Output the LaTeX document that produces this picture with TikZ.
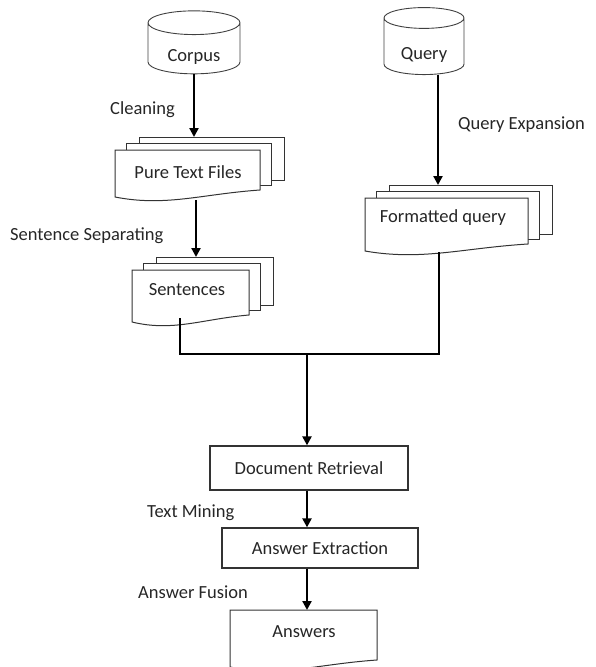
\documentclass[tikz,border=0pt]{standalone}
\usepackage{fontspec}
\setmainfont{Carlito}
\usepackage{tikz}
\usetikzlibrary{arrows.meta, positioning, shapes.geometric}

\tikzset{
	sheet/.style={draw=black!80, fill=white, line width=1pt},
	procbox/.style={draw=black!80, fill=white, line width=1.3pt, inner sep=0pt},
	store/.style={cylinder, shape border rotate=90, draw=black!75, line width=0.9pt, aspect=0.45, inner sep=0pt, text height=26pt, text depth=0pt},
	lbl/.style={text=black!85, font=\fontsize{18.5}{21}\selectfont, inner sep=0pt},
	link/.style={-{Triangle[length=9pt,width=9pt]}, line width=2.2pt},
	wire/.style={line width=2.2pt}
}

% one sheet with a wavy lower edge: left, top, right, lower right corner
\newcommand{\docsheet}[4]{%
	\draw[sheet] (#1,#2) -- (#3,#2) -- (#3,#4)
		.. controls ({#1+0.6*(#3-#1)},{#4+4}) and ({#1+0.35*(#3-#1)},{#4+17}) .. (#1,{#4+7}) -- cycle;}
\newcommand{\multidoc}[4]{%
	\draw[sheet] ({#1+24},{#2-13}) rectangle ({#3+24},{#4-10});
	\draw[sheet] ({#1+11},{#2-7}) rectangle ({#3+11},{#4-5});
	\docsheet{#1}{#2}{#3}{#4}}

\begin{document}
\begin{tikzpicture}[x=1pt, y=-1pt, >=Triangle]
	\useasboundingbox (0,0) rectangle (595,667);

	\node[store, lbl, minimum width=92pt, minimum height=63pt] (corpus) at (194,48.5) {Corpus};
	\node[store, lbl, minimum width=80pt, minimum height=67pt] (query) at (424,46.5) {Query};

	\multidoc{115}{150}{260}{190}
	\node[lbl] (ptf) at (188,172) {Pure Text Files};
	\multidoc{132}{270}{249}{315}
	\node[lbl] (sent) at (187,290) {Sentences};
	\multidoc{365}{198}{528}{244}
	\node[lbl] (fq) at (443,218) {Formatted query};

	\node[procbox, lbl, minimum width=198pt, minimum height=44pt] (dr) at (309,468) {Document Retrieval};
	\node[procbox, lbl, minimum width=196pt, minimum height=40pt] (ae) at (320,548) {Answer Extraction};
	\docsheet{230}{610}{377}{660}
	\node[lbl] (ans) at (304,632) {Answers};

	\node[lbl, anchor=west] (clean) at (110,110) {Cleaning};
	\node[lbl, anchor=west] (qexp) at (458,125) {Query Expansion};
	\node[lbl, anchor=west] (sep) at (10,236) {Sentence Separating};
	\node[lbl, anchor=west] (mine) at (147,513) {Text Mining};
	\node[lbl, anchor=west] (fuse) at (138,592) {Answer Fusion};

	\coordinate (ptfin) at (194,137);
	\coordinate (ptfout) at (196,200);
	\coordinate (sentin) at (196,257);
	\coordinate (sentout) at (180,318);
	\coordinate (fqin) at (438,185);
	\coordinate (fqout) at (439,252);
	\coordinate (join) at (307,354);
	\coordinate (ansin) at (307,610);

	\draw[link] (corpus.south) -- (ptfin);
	\draw[link] (ptfout) -- (sentin);
	\draw[link] (query.south -| fqin) -- (fqin);
	\draw[wire] (sentout) |- (join) -| (fqout);
	\draw[link] (join) -- (join |- dr.north);
	\draw[link] (dr.south -| join) -- (join |- ae.north);
	\draw[link] (ae.south -| join) -- (ansin);
\end{tikzpicture}
\end{document}
